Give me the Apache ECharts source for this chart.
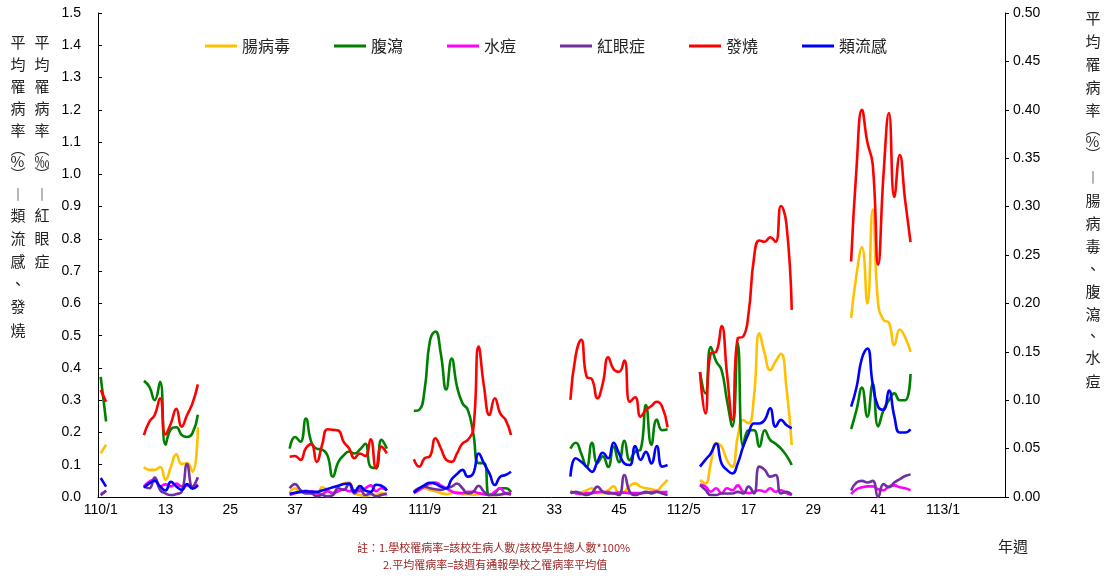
<!DOCTYPE html>
<html><head><meta charset="utf-8">
<script src="https://cdn.jsdelivr.net/npm/echarts@6/dist/echarts.min.js"></script>
<style>html,body{margin:0;padding:0;background:#fff}#c{width:1104px;height:576px}</style>
</head><body><div id="c"></div>
<script>
// ---- categories: year/week ----
const years = [110, 111, 112, 113];
const weeksPerYear = [52, 52, 52, 12];
// ---- segment start indices (school terms) ----
const segStarts = [0, 8, 35, 58, 87, 111, 139];

// 腸病毒 (right axis, %)
const enterovirus = [
  [0.045, 0.054],
  [0.031, 0.028, 0.028, 0.031, 0.018, 0.031, 0.044, 0.034, 0.035, 0.026, 0.072],
  [0.004, 0.009, 0.005, 0.007, 0.004, 0.002, 0.010, 0.007, 0.004, 0.011, 0.014, 0.015, 0.004, 0.002, 0.001, 0.002, 0.002, 0.004, 0.001],
  [0.0055, 0.009, 0.009, 0.007, 0.006, 0.004, 0.003, 0.004, 0.0055, 0.003, 0.003, 0.002, 0.003, 0.003, 0.002, 0.002, 0.002, 0.003, 0.002],
  [0.0065, 0.0045, 0.005, 0.007, 0.009, 0.004, 0.004, 0.007, 0.011, 0.004, 0.0055, 0.0114, 0.0141, 0.0107, 0.009, 0.008, 0.007, 0.012, 0.0176],
  [0.0176, 0.0141, 0.0348, 0.0555, 0.052, 0.0382, 0.0313, 0.0623, 0.0795, 0.0761, 0.1036, 0.169, 0.148, 0.131, 0.14, 0.148, 0.114, 0.0537],
  [0.185, 0.23, 0.258, 0.2, 0.297, 0.2, 0.183, 0.18, 0.157, 0.173, 0.165, 0.15]
];
// 腹瀉 (right axis, %)
const diarrhea = [
  [0.124, 0.078],
  [0.120, 0.114, 0.100, 0.119, 0.054, 0.070, 0.072, 0.064, 0.062, 0.066, 0.085],
  [0.050, 0.062, 0.057, 0.081, 0.057, 0.050, 0.049, 0.043, 0.021, 0.036, 0.043, 0.047, 0.045, 0.049, 0.055, 0.031, 0.030, 0.059, 0.050],
  [0.089, 0.090, 0.111, 0.162, 0.171, 0.148, 0.111, 0.143, 0.114, 0.097, 0.090, 0.066, 0.035, 0.035, 0.002, 0.004, 0.009, 0.009, 0.005],
  [0.050, 0.056, 0.045, 0.031, 0.056, 0.035, 0.042, 0.031, 0.052, 0.036, 0.058, 0.038, 0.047, 0.049, 0.095, 0.054, 0.080, 0.069, 0.070],
  [0.129, 0.107, 0.155, 0.140, 0.131, 0.100, 0.073, 0.159, 0.052, 0.069, 0.069, 0.052, 0.069, 0.059, 0.055, 0.050, 0.043, 0.033],
  [0.070, 0.090, 0.113, 0.083, 0.117, 0.073, 0.090, 0.100, 0.107, 0.100, 0.100, 0.127]
];
// 水痘 (right axis, %)
const varicella = [
  [0.003, 0.006],
  [0.011, 0.016, 0.018, 0.011, 0.013, 0.011, 0.014, 0.011, 0.012, 0.011, 0.013],
  [0.002, 0.004, 0.005, 0.005, 0.006, 0.004, 0.003, 0.006, 0.004, 0.006, 0.008, 0.006, 0.007, 0.006, 0.009, 0.012, 0.006, 0.009, 0.007],
  [0.004, 0.007, 0.011, 0.014, 0.015, 0.012, 0.009, 0.006, 0.004, 0.004, 0.0055, 0.0055, 0.004, 0.003, 0.002, 0.0055, 0.009, 0.004, 0.004],
  [0.0055, 0.004, 0.003, 0.004, 0.004, 0.005, 0.0055, 0.005, 0.004, 0.0045, 0.0045, 0.004, 0.004, 0.004, 0.0045, 0.005, 0.0055, 0.005, 0.0055],
  [0.013, 0.011, 0.0055, 0.009, 0.004, 0.009, 0.007, 0.012, 0.0055, 0.004, 0.0055, 0.007, 0.0055, 0.009, 0.0055, 0.007, 0.004, 0.002],
  [0.003, 0.008, 0.010, 0.011, 0.011, 0.008, 0.007, 0.011, 0.012, 0.010, 0.009, 0.007]
];
// 紅眼症 (left axis, ‰)
const conjunctivitis = [
  [0.005, 0.020],
  [0.032, 0.027, 0.060, 0.022, 0.011, 0.006, 0.009, 0.016, 0.102, 0.032, 0.061],
  [0.027, 0.040, 0.022, 0.011, 0.011, 0.002, 0.006, 0.002, 0.006, 0.027, 0.022, 0.040, 0.011, 0.027, 0.006, 0.011, 0.002, 0.006, 0.011],
  [0.016, 0.027, 0.032, 0.027, 0.024, 0.022, 0.027, 0.032, 0.042, 0.027, 0.011, 0.016, 0.035, 0.016, 0.006, 0.006, 0.008, 0.011, 0.008],
  [0.011, 0.016, 0.011, 0.006, 0.013, 0.032, 0.016, 0.011, 0.011, 0.006, 0.068, 0.016, 0.006, 0.011, 0.016, 0.011, 0.016, 0.011, 0.006],
  [0.037, 0.022, 0.006, 0.006, 0.011, 0.011, 0.011, 0.016, 0.011, 0.032, 0.011, 0.094, 0.084, 0.063, 0.068, 0.011, 0.016, 0.006],
  [0.020, 0.045, 0.050, 0.045, 0.050, 0.000, 0.040, 0.030, 0.045, 0.055, 0.065, 0.070]
];
// 發燒 (left axis, %)
const fever = [
  [0.332, 0.295],
  [0.192, 0.233, 0.254, 0.306, 0.194, 0.228, 0.273, 0.218, 0.254, 0.290, 0.349],
  [0.125, 0.127, 0.115, 0.151, 0.164, 0.109, 0.161, 0.210, 0.208, 0.206, 0.171, 0.151, 0.120, 0.135, 0.127, 0.179, 0.089, 0.156, 0.135],
  [0.117, 0.094, 0.120, 0.127, 0.182, 0.151, 0.115, 0.109, 0.135, 0.166, 0.177, 0.208, 0.466, 0.342, 0.254, 0.306, 0.259, 0.239, 0.192],
  [0.301, 0.440, 0.487, 0.373, 0.365, 0.306, 0.352, 0.433, 0.396, 0.388, 0.423, 0.295, 0.309, 0.249, 0.270, 0.282, 0.295, 0.280, 0.216],
  [0.388, 0.259, 0.445, 0.450, 0.530, 0.383, 0.239, 0.492, 0.497, 0.569, 0.740, 0.795, 0.791, 0.805, 0.791, 0.902, 0.848, 0.580],
  [0.730, 1.020, 1.200, 1.100, 1.030, 0.720, 1.000, 1.190, 0.930, 1.060, 0.920, 0.790]
];
// 類流感 (left axis, %)
const influenza = [
  [0.059, 0.032],
  [0.029, 0.042, 0.050, 0.033, 0.020, 0.047, 0.033, 0.022, 0.040, 0.026, 0.036],
  [0.010, 0.013, 0.016, 0.018, 0.016, 0.016, 0.020, 0.025, 0.030, 0.035, 0.040, 0.042, 0.016, 0.034, 0.020, 0.016, 0.038, 0.035, 0.020],
  [0.013, 0.027, 0.037, 0.044, 0.041, 0.032, 0.027, 0.055, 0.071, 0.084, 0.063, 0.073, 0.135, 0.104, 0.073, 0.037, 0.063, 0.068, 0.078],
  [0.063, 0.120, 0.109, 0.094, 0.078, 0.109, 0.137, 0.120, 0.168, 0.135, 0.104, 0.099, 0.158, 0.115, 0.140, 0.104, 0.158, 0.094, 0.099],
  [0.094, 0.115, 0.135, 0.166, 0.104, 0.084, 0.073, 0.104, 0.156, 0.197, 0.228, 0.228, 0.239, 0.275, 0.218, 0.239, 0.223, 0.213],
  [0.280, 0.340, 0.430, 0.460, 0.350, 0.280, 0.270, 0.330, 0.250, 0.200, 0.200, 0.210]
];
const seriesNames = ['腸病毒', '腹瀉', '水痘', '紅眼症', '發燒', '類流感'];
const seriesColors = ['#FFC000', '#008000', '#FF00FF', '#7030A0', '#FF0000', '#0000FF'];
const seriesAxis = [1, 1, 1, 0, 0, 0];
const seriesData = [enterovirus, diarrhea, varicella, conjunctivitis, fever, influenza];

// build categories
const categories = [];
years.forEach((y, k) => { for (let w = 1; w <= weeksPerYear[k]; w++) categories.push(y + '/' + w); });
function expand(segs) {
  const arr = new Array(categories.length).fill(null);
  segs.forEach((s, k) => s.forEach((v, j) => { arr[segStarts[k] + j] = v; }));
  return arr;
}

const chart = echarts.init(document.getElementById('c'));
const numFont = '"Liberation Sans", Arial, sans-serif';
const cjkFont = '"Noto Sans CJK TC", sans-serif';

function vcol(x, chars, ys, size, color) {
  return chars.map((ch, i) => ({
    type: 'text', left: x - size / 2, top: ys[i] - size / 2,
    style: { text: ch, font: size + 'px ' + cjkFont, fill: color, width: size, align: 'center' }
  }));
}
const col1 = ['平','均','罹','病','率','︵','%','︶','︱','類','流','感','、','發','燒'];
const col2 = ['平','均','罹','病','率','︵','‰','︶','︱','紅','眼','症'];
const colY = [42, 64, 86, 108, 130, 148, 161, 174, 194, 215, 238, 261, 283, 306, 330];
const col3 = ['平','均','罹','病','率','︵','%','︶','︱','腸','病','毒','、','腹','瀉','、','水','痘'];
const col3Y = [18, 41, 64, 87, 110, 128, 141, 154, 177, 200, 223, 246, 268, 291, 314, 335, 357, 381];

chart.setOption({
  animation: false,
  backgroundColor: '#fff',
  grid: { left: 98, right: 99, top: 13, bottom: 79, containLabel: false },
  legend: {
    left: 200, top: 33, itemWidth: 32, itemHeight: 3, itemGap: 44, icon: 'rect',
    textStyle: { fontFamily: cjkFont, fontSize: 16, color: '#222' },
    data: seriesNames
  },
  xAxis: {
    type: 'category', data: categories, boundaryGap: true,
    axisLine: { lineStyle: { color: '#000', width: 1 } },
    axisTick: { interval: 11, length: 5, lineStyle: { color: '#000' } },
    axisLabel: {
      interval: 11, margin: 6, color: '#000', fontFamily: numFont, fontSize: 14,
      formatter: v => { const p = v.split('/'); return (+p[1] <= 12) ? v : p[1]; }
    },
    splitLine: { show: false }
  },
  yAxis: [
    { type: 'value', min: 0, max: 1.5, interval: 0.1,
      axisLine: { show: true, lineStyle: { color: '#000' } },
      axisTick: { show: true, inside: true, length: 4, lineStyle: { color: '#000' } },
      axisLabel: { color: '#000', fontFamily: numFont, fontSize: 14, margin: 17, formatter: v => v.toFixed(1) },
      splitLine: { show: false } },
    { type: 'value', min: 0, max: 0.5, interval: 0.05,
      axisLine: { show: true, lineStyle: { color: '#000' } },
      axisTick: { show: true, inside: false, length: 4, lineStyle: { color: '#000' } },
      axisLabel: { color: '#000', fontFamily: numFont, fontSize: 14, margin: 8, formatter: v => v.toFixed(2) },
      splitLine: { show: false } }
  ],
  series: seriesNames.map((n, k) => ({
    name: n, type: 'line', yAxisIndex: seriesAxis[k], data: expand(seriesData[k]),
    smooth: true, symbol: 'none', showSymbol: false, connectNulls: false,
    lineStyle: { color: seriesColors[k], width: 2.6 }, itemStyle: { color: seriesColors[k] }
  })),
  graphic: [
    ...vcol(18, col1, colY, 15, '#222'),
    ...vcol(42, col2, colY, 15, '#222'),
    ...vcol(1093, col3, col3Y, 15, '#222'),
    { type: 'text', left: 998, top: 539, style: { text: '年週', font: '15px ' + cjkFont, fill: '#222' } },
    { type: 'text', left: 357, top: 542, style: { text: '註：1.學校罹病率=該校生病人數/該校學生總人數*100%', font: '11px ' + cjkFont, fill: '#9b1c1c' } },
    { type: 'text', left: 383, top: 559, style: { text: '2.平均罹病率=該週有通報學校之罹病率平均值', font: '11px ' + cjkFont, fill: '#9b1c1c' } }
  ]
});
</script></body></html>
